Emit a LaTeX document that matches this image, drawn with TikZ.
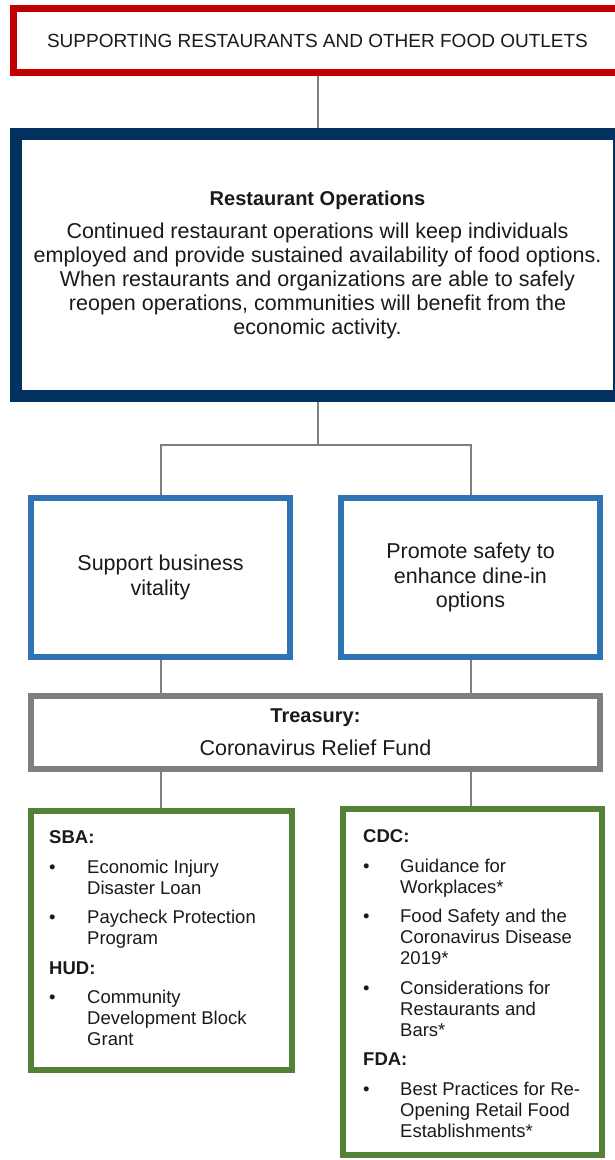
\documentclass[tikz,border=0pt]{standalone}
\usepackage{fontspec}
\setmainfont{Liberation Sans}
\usetikzlibrary{backgrounds}
\definecolor{cred}{HTML}{C00000}
\definecolor{cnavy}{HTML}{02315F}
\definecolor{cblue}{HTML}{2E74B5}
\definecolor{cgray}{HTML}{7F7F7F}
\definecolor{cgreen}{HTML}{538135}
\definecolor{cline}{HTML}{7F7F7F}
\definecolor{ink}{HTML}{1A1A1A}
\begin{document}
\begin{tikzpicture}[x=1pt,y=-1pt,
  box/.style={draw, fill=white, rectangle, inner sep=0pt, align=center, text=ink},
  redbox/.style={box, draw=cred, line width=7pt, font=\fontsize{19}{22}\selectfont},
  navybox/.style={box, draw=cnavy, line width=12pt, font=\fontsize{21.5}{24}\selectfont},
  bluebox/.style={box, draw=cblue, line width=6pt, font=\fontsize{21.5}{24.5}\selectfont},
  graybox/.style={box, draw=cgray, line width=6pt, font=\fontsize{21.5}{24}\selectfont},
  greenbox/.style={box, draw=cgreen, line width=6pt},
  listtext/.style={inner sep=0pt, anchor=north west, text=ink, font=\fontsize{18.5}{21}\selectfont},
  conn/.style={draw=cline, line width=2pt}]

\useasboundingbox (0,0) rectangle (615,1160);
\clip (0,0) rectangle (615,1160);

\node[redbox, minimum width=608pt, minimum height=64pt] (goal) at (317.5,40.5)
  {SUPPORTING RESTAURANTS AND OTHER FOOD OUTLETS};

\node[navybox, minimum width=603pt, minimum height=262pt] (ops) at (317.5,265)
  {{\fontsize{20}{24}\selectfont\bfseries Restaurant Operations}\\[8.5pt]
   Continued restaurant operations will keep individuals\\
   employed and provide sustained availability of food options.\\
   When restaurants and organizations are able to safely\\
   reopen operations, communities will benefit from the\\
   economic activity.};

\node[bluebox, minimum width=259pt, minimum height=159pt] (vital) at (160.5,577.5)
  {Support business\\vitality};
\node[bluebox, minimum width=259pt, minimum height=159pt] (safety) at (470.5,577.5)
  {Promote safety to\\enhance dine-in\\options};

\node[graybox, minimum width=569pt, minimum height=73pt] (fund) at (315.5,732.5)
  {{\fontsize{20}{24}\selectfont\bfseries Treasury:}\\[9pt]Coronavirus Relief Fund};

\node[greenbox, minimum width=261pt, minimum height=259pt] (sba) at (161.5,940.5) {};
\node[greenbox, minimum width=259pt, minimum height=346pt] (cdc) at (472.5,982) {};

\node[listtext] (sbalist) at (49,829) {%
  \begin{tabular}{@{}p{38pt}@{}l@{}}
  \multicolumn{2}{@{}l@{}}{\bfseries SBA:}\\[8.5pt]
  \textbullet & Economic Injury\\
   & Disaster Loan\\[8.5pt]
  \textbullet & Paycheck Protection\\
   & Program\\[8.5pt]
  \multicolumn{2}{@{}l@{}}{\bfseries HUD:}\\[8.5pt]
  \textbullet & Community\\
   & Development Block\\
   & Grant
  \end{tabular}};

\node[listtext] (cdclist) at (363,828) {%
  \begin{tabular}{@{}p{37pt}@{}l@{}}
  \multicolumn{2}{@{}l@{}}{\bfseries CDC:}\\[8.5pt]
  \textbullet & Guidance for\\
   & Workplaces*\\[8.5pt]
  \textbullet & Food Safety and the\\
   & Coronavirus Disease\\
   & 2019*\\[8.5pt]
  \textbullet & Considerations for\\
   & Restaurants and\\
   & Bars*\\[8.5pt]
  \multicolumn{2}{@{}l@{}}{\bfseries FDA:}\\[8.5pt]
  \textbullet & Best Practices for Re-\\
   & Opening Retail Food\\
   & Establishments*
  \end{tabular}};

\begin{pgfonlayer}{background}
\coordinate (split) at (317.5,445);
\draw[conn] (goal.south) -- (ops.north);
\draw[conn] (ops.south) -- (split) -| (vital.north);
\draw[conn] (split) -| (safety.north);
\draw[conn] (vital.south) -- (vital.south |- fund.north);
\draw[conn] (safety.south) -- (safety.south |- fund.north);
\draw[conn] (vital.south |- fund.south) -- (vital.south |- sba.north);
\draw[conn] (safety.south |- fund.south) -- (safety.south |- cdc.north);
\end{pgfonlayer}
\end{tikzpicture}
\end{document}
